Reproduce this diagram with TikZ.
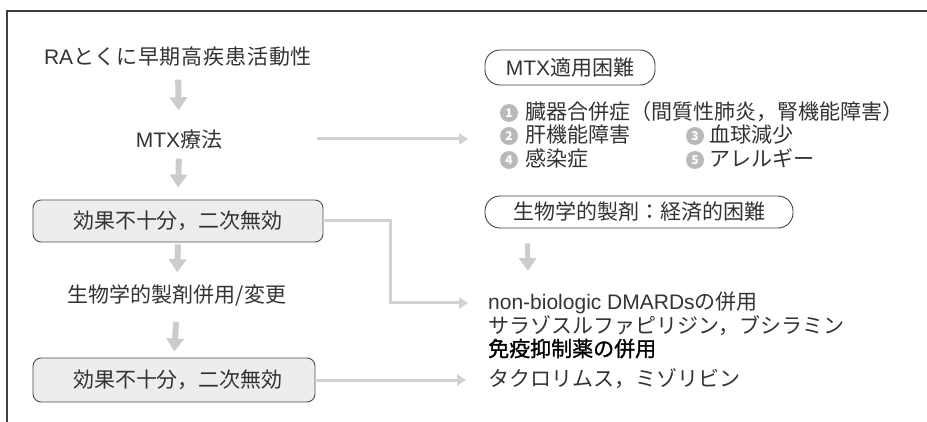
\documentclass[tikz,border=0pt]{standalone}
\usepackage{fontspec}
\setmainfont{Noto Sans CJK JP}
\newfontfamily\lat{Liberation Sans}
\usetikzlibrary{arrows.meta}
\begin{document}
\begin{tikzpicture}[x=1pt,y=-1pt,
  txt/.style={inner sep=0pt, font=\fontsize{21}{25}\selectfont, text=black!80, text height=16pt, text depth=3pt},
  boxs/.style={draw=black!70, line width=0.9pt, fill=gray!14, rounded corners=8pt, inner sep=0pt, font=\fontsize{21}{25}\selectfont, text=black!80},
  pill/.style={draw=black!75, line width=0.9pt, rounded corners=15pt, inner sep=0pt, font=\fontsize{21}{25}\selectfont, text=black!80},
  numc/.style={circle, fill=gray!55, text=white, inner sep=0pt, minimum size=18pt, font=\fontsize{12}{12}\selectfont\bfseries},
  varrow/.style={line width=6pt, draw=gray!40, -{Triangle[length=13pt,width=17pt]}},
  harrow/.style={line width=3pt, draw=gray!36, -{Triangle[length=9pt,width=11pt]}},
  frame/.style={draw=black!75, line width=1.2pt}
]
\useasboundingbox (0,0) rectangle (927,422);
\draw[frame] (927,11) -- (7,11) -- (7,422);

% left column
\node[txt] (ra) at (178,58) {{\lat RA}\addfontfeature{LetterSpace=4}とくに早期高疾患活動性};
\node[txt] (mtx) at (179,141) {{\lat MTX}療法};
\node[boxs, minimum width=290pt, minimum height=42pt] (b1) at (178,221) {効果不十分，二次無効};
\node[txt] (bio) at (177,296) {生物学的製剤併用/変更};
\node[boxs, minimum width=282pt, minimum height=44pt] (b2) at (174,380) {\hspace*{8pt}効果不十分，二次無効};

\draw[varrow, shorten <=12pt, shorten >=21pt] (ra.south) -- (mtx.north);
\draw[varrow, shorten <=8pt, shorten >=12pt] (mtx.south) -- (b1.north);
\draw[varrow, shorten <=2pt, shorten >=14pt] (b1.south) -- (bio.north);
\draw[varrow, shorten <=16pt, shorten >=6pt] (bio.south) -- (b2.north);

% right column
\node[pill, minimum width=170pt, minimum height=35pt] (p1) at (570,67.5) {{\lat MTX}適用困難};
\node[numc] (c1) at (509,113) {1};
\node[txt, anchor=west] (i1) at (525,113) {臓器合併症（間質性肺炎，腎機能障害）};
\node[numc] (c2) at (509,136) {2};
\node[txt, anchor=west] (i2) at (525,136) {肝機能障害};
\node[numc] (c3) at (695,136) {3};
\node[txt, anchor=west] (i3) at (709,136) {血球減少};
\node[numc] (c4) at (509,160) {4};
\node[txt, anchor=west] (i4) at (525,160) {感染症};
\node[numc] (c5) at (695,160) {5};
\node[txt, anchor=west] (i5) at (709,160) {アレルギー};

\node[pill, minimum width=308pt, minimum height=32pt] (p2) at (639,212) {生物学的製剤：経済的困難};

\node[txt, anchor=west] (nb) at (488,303) {{\lat non-biologic DMARDs}の併用};
\node[txt, anchor=west] (sa) at (488,327) {サラゾスルファピリジン，ブシラミン};
\node[txt, anchor=west, text=black] (men) at (488,350) {\addfontfeature{FakeBold=1.2}免疫抑制薬の併用};
\node[txt, anchor=west] (tac) at (488,380) {タクロリムス，ミゾリビン};

\coordinate (mtxtip) at (468,139);
\draw[harrow] ([xshift=95pt,yshift=2pt]mtx.east) -- (mtxtip);
\draw[harrow, shorten >=20pt] (b1.east) -- ++(67,0) |- (nb.west);
\draw[harrow, shorten >=22pt] (b2.east) -- (tac.west);
\coordinate (bdtip) at (528,271);
\draw[varrow, line width=5pt] ([xshift=43pt,yshift=-15pt]p2.south west) -- (bdtip);
\end{tikzpicture}
\end{document}
